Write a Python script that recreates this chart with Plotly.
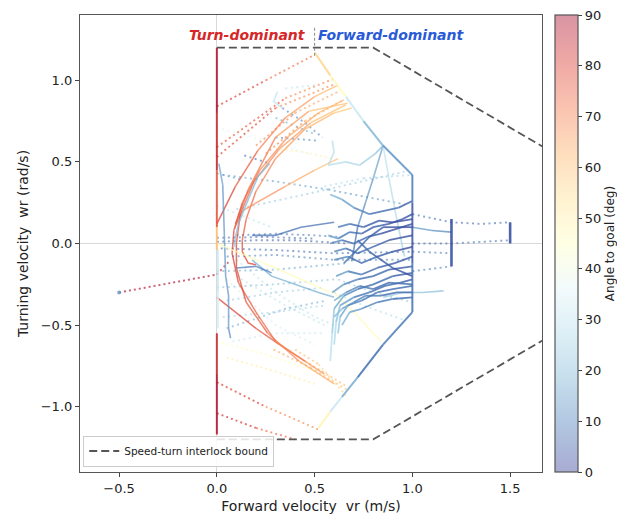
import numpy as np
import plotly.graph_objects as go

# ---------------- data (v [m/s], w [rad/s], angle-to-goal [deg]) ----------------
envelope_tracks = [
    [(0.0, 1.20, 88), (0.0, 0.80, 86), (0.0, 0.45, 82), (0.0, 0.10, 70), (0.0, -0.04, 50)],
    [(0.005, -0.04, 32), (0.005, -0.30, 30), (0.005, -0.52, 38)],
    [(0.0, -0.55, 80), (0.0, -0.80, 87), (0.0, -1.17, 88)],
    [(0.50, 1.17, 58), (0.58, 1.03, 52), (0.66, 0.90, 40), (0.75, 0.75, 25), (0.85, 0.60, 15), (1.0, 0.42, 14)],
    [(1.0, 0.42, 14), (1.0, 0.25, 6), (1.0, -0.12, 4), (1.0, -0.42, 12)],
    [(1.0, -0.42, 12), (0.85, -0.62, 8), (0.72, -0.82, 10), (0.64, -0.94, 25), (0.58, -1.03, 40), (0.52, -1.13, 54)],
]

red_arc_tracks = [
    [(0.0, 0.12, 82), (0.095, 0.35, 77), (0.21, 0.57, 73), (0.35, 0.77, 68), (0.50, 0.90, 64), (0.62, 0.97, 60)],
    [(0.095, 0.12, 78), (0.16, 0.33, 74), (0.30, 0.65, 68), (0.47, 0.81, 64), (0.67, 0.86, 58)],
    [(0.55, -0.80, 64), (0.45, -0.72, 68), (0.30, -0.60, 72), (0.20, -0.42, 75), (0.11, -0.24, 78),
     (0.078, -0.06, 80), (0.087, 0.08, 78), (0.13, 0.25, 75), (0.22, 0.45, 71), (0.36, 0.65, 67),
     (0.52, 0.80, 63), (0.65, 0.88, 60)],
    [(0.20, -0.13, 80), (0.16, -0.12, 80), (0.13, -0.05, 78), (0.13, 0.02, 77), (0.15, 0.15, 75),
     (0.20, 0.32, 72), (0.30, 0.52, 68), (0.45, 0.70, 64), (0.60, 0.80, 60), (0.69, 0.83, 57)],
    [(0.09, 0.09, 75), (0.13, 0.20, 72), (0.35, 0.35, 66), (0.50, 0.45, 62), (0.62, 0.52, 60)],
    [(0.0, -0.33, 82), (0.20, -0.52, 77), (0.32, -0.62, 73), (0.45, -0.72, 68)],
    [(0.60, -0.86, 62), (0.42, -0.72, 68), (0.26, -0.55, 73), (0.15, -0.36, 77), (0.10, -0.15, 79),
     (0.10, 0.00, 79), (0.12, 0.18, 76), (0.19, 0.38, 72), (0.32, 0.58, 68), (0.48, 0.74, 64), (0.66, 0.85, 58)],
]

red_dotted_tracks = [
    [(0.0, 0.84, 84), (0.25, 1.00, 76), (0.49, 1.15, 66)],
    [(0.0, 0.59, 82), (0.35, 0.89, 72), (0.60, 1.01, 62)],
    [(0.0, 0.53, 82), (0.30, 0.83, 74), (0.61, 0.98, 62)],
    [(0.20, 0.60, 70), (0.40, 0.80, 66), (0.62, 0.93, 60)],
    [(0.25, 0.55, 70), (0.45, 0.75, 65), (0.65, 0.88, 58)],
    [(0.0, -0.85, 84), (0.25, -1.00, 76), (0.52, -1.14, 62)],
    [(0.0, -1.04, 86), (0.20, -1.13, 78), (0.40, -1.20, 70)],
    [(0.45, -0.72, 66), (0.56, -0.80, 62), (0.67, -0.88, 58)],
    [(0.29, -0.65, 66), (0.48, -0.76, 62), (0.67, -0.90, 58)],
    [(0.40, -0.65, 62), (0.52, -0.74, 58), (0.66, -0.93, 55)],
    [(-0.50, -0.30, 88), (0.0, -0.19, 86), (0.07, -0.10, 82)],
    [(0.05, -0.70, 50), (0.29, -0.78, 50), (0.50, -0.86, 50)],
    [(0.0, -0.60, 46), (0.25, -0.68, 46), (0.50, -0.78, 46)],
    [(0.30, 0.58, 48), (0.45, 0.56, 48), (0.59, 0.52, 48)],
]

blue_dotted_tracks = [
    [(0.0, 0.71, 35), (0.25, 0.63, 35), (0.47, 0.55, 35)],
    [(0.03, 0.42, 15), (0.30, 0.38, 15), (0.57, 0.33, 15), (0.96, 0.24, 12)],
    [(0.10, 0.21, 25), (0.45, 0.30, 25), (0.96, 0.44, 25)],
    [(0.0, 0.23, 30), (0.28, 0.10, 30)],
    [(0.0, 0.43, 15), (0.13, 0.39, 15)],
    [(0.14, 0.54, 8), (0.27, 0.49, 8)],
    [(0.335, 0.83, 12), (0.45, 0.74, 12), (0.54, 0.65, 12)],
    [(0.30, 0.77, 18), (0.50, 0.67, 18)],
    [(0.35, 0.95, 30), (0.50, 0.97, 30)],
    [(0.30, 0.65, 12), (0.52, 0.63, 12)],
    [(0.55, 0.35, 28), (0.75, 0.40, 28), (1.0, 0.42, 25)],
    [(0.0, 0.01, 6), (0.20, 0.02, 6), (0.40, 0.02, 6), (0.67, 0.0, 6)],
    [(0.0, 0.035, 8), (0.25, 0.04, 8), (0.50, 0.03, 8)],
    [(0.02, -0.03, 8), (0.30, -0.04, 8), (0.60, -0.06, 8), (1.0, -0.05, 8)],
    [(0.05, -0.08, 12), (0.30, -0.07, 12), (0.60, -0.10, 12), (1.0, -0.10, 10)],
    [(0.10, 0.05, 10), (0.30, 0.06, 10), (0.50, 0.05, 10), (0.62, 0.04, 10)],
    [(0.0, -0.17, 18), (0.30, -0.16, 18), (0.67, -0.12, 18)],
    [(0.0, -0.27, 22), (0.30, -0.25, 22), (0.60, -0.22, 22)],
    [(0.05, -0.35, 25), (0.30, -0.30, 25), (0.55, -0.27, 25)],
    [(0.03, -0.45, 26), (0.30, -0.42, 26), (0.55, -0.38, 26)],
    [(0.05, -0.52, 18), (0.35, -0.40, 18), (0.56, -0.35, 18)],
    [(0.10, -0.20, 30), (0.35, -0.38, 30), (0.55, -0.50, 30)],
    [(0.10, -0.10, 30), (0.30, -0.30, 30), (0.50, -0.45, 30), (0.60, -0.50, 30)],
    [(0.05, -0.22, 34), (0.30, -0.50, 34), (0.50, -0.62, 34)],
    [(0.08, -0.60, 32), (0.30, -0.55, 32), (0.55, -0.55, 32)],
    [(0.60, -0.30, 28), (0.75, -0.38, 28), (0.96, -0.47, 28)],
    [(0.62, -0.22, 25), (0.80, -0.30, 25), (1.0, -0.36, 25)],
    [(1.0, 0.18, 10), (1.20, 0.13, 8), (1.35, 0.12, 8), (1.50, 0.13, 8)],
    [(1.0, 0.0, 8), (1.20, 0.0, 8), (1.50, 0.02, 8)],
    [(1.0, -0.05, 10), (1.20, -0.06, 10)],
    [(1.0, -0.17, 10), (1.20, -0.14, 10)],
]

blue_solid_tracks = [
    [(0.01, 0.49, 15), (0.03, 0.36, 15), (0.035, 0.12, 14), (0.04, -0.05, 14), (0.045, -0.20, 14),
     (0.06, -0.32, 14), (0.06, -0.52, 13), (0.07, -0.58, 12)],
    [(0.27, 0.49, 20), (0.21, 0.41, 20), (0.15, 0.24, 20), (0.11, 0.12, 21), (0.095, 0.04, 22), (0.09, -0.02, 22)],
    [(0.18, -0.10, 18), (0.28, -0.20, 18), (0.52, -0.30, 18), (0.60, -0.33, 18)],
    [(0.0, 0.0, 46), (0.30, -0.15, 46), (0.58, -0.30, 46)],
    [(0.18, 0.05, 8), (0.30, 0.05, 8), (0.43, 0.10, 8), (0.60, 0.13, 8)],
    [(0.10, -0.15, 10), (0.20, -0.14, 10), (0.28, -0.18, 10)],
    [(0.31, 0.93, 30), (0.29, 0.87, 30), (0.335, 0.83, 30)],
    [(0.59, 0.63, 28), (0.60, 0.56, 28), (0.57, 0.48, 28), (0.66, 0.50, 27), (0.73, 0.48, 25), (0.81, 0.55, 22), (0.85, 0.60, 18)],
    [(0.85, 0.60, 18), (0.80, 0.40, 15), (0.76, 0.25, 12), (0.72, 0.10, 10), (0.69, -0.11, 8)],
    [(0.85, 0.60, 30), (0.88, 0.40, 30), (0.92, 0.15, 28), (0.96, -0.08, 25)],
    [(0.60, -0.30, 48), (0.70, -0.42, 48), (0.84, -0.60, 45)],
    [(1.0, 0.10, 14), (1.10, 0.08, 14), (1.20, 0.07, 12)],
    [(0.85, -0.33, 25), (0.95, -0.30, 22), (1.05, -0.30, 22), (1.16, -0.29, 22)],
]

bundle_tracks = [
    [(0.58, 0.30, 22), (0.64, 0.27, 18), (0.70, 0.22, 14), (0.78, 0.18, 10), (0.86, 0.20, 8), (0.93, 0.22, 7), (1.0, 0.26, 6)],
    [(0.57, 0.05, 18), (0.62, 0.03, 12), (0.68, 0.07, 8), (0.74, 0.06, 6), (0.80, 0.10, 6), (0.88, 0.12, 5), (0.95, 0.15, 5), (1.0, 0.18, 5)],
    [(0.58, 0.0, 15), (0.64, 0.02, 10), (0.70, 0.0, 8), (0.77, 0.04, 6), (0.84, 0.06, 5), (0.92, 0.09, 5), (1.0, 0.12, 5)],
    [(0.60, -0.05, 15), (0.66, -0.03, 10), (0.72, -0.06, 8), (0.80, -0.02, 6), (0.88, 0.02, 5), (1.0, 0.05, 5)],
    [(0.62, 0.10, 12), (0.68, 0.12, 8), (0.75, 0.10, 6), (0.83, 0.14, 5), (0.90, 0.13, 5), (1.0, 0.15, 5)],
    [(0.60, -0.10, 15), (0.67, -0.08, 10), (0.74, -0.12, 8), (0.82, -0.08, 6), (0.90, -0.05, 5), (1.0, -0.02, 5)],
    [(0.72, 0.02, 8), (0.78, -0.05, 7), (0.84, -0.10, 6), (0.90, -0.15, 5), (1.0, -0.20, 5)],
    [(0.65, -0.12, 12), (0.70, -0.06, 8), (0.78, 0.04, 6), (0.85, 0.10, 5), (0.92, 0.10, 5), (1.0, 0.10, 5)],
    [(0.58, -0.72, 32), (0.59, -0.55, 28), (0.60, -0.40, 22), (0.65, -0.32, 15), (0.72, -0.28, 10), (0.80, -0.25, 8), (0.90, -0.20, 7), (1.0, -0.18, 6)],
    [(0.60, -0.62, 30), (0.61, -0.48, 25), (0.63, -0.38, 18), (0.70, -0.33, 12), (0.78, -0.30, 9), (0.86, -0.26, 8), (0.94, -0.24, 7), (1.0, -0.22, 6)],
    [(0.62, -0.55, 28), (0.63, -0.45, 22), (0.67, -0.38, 15), (0.74, -0.35, 11), (0.82, -0.30, 9), (0.90, -0.28, 8), (1.0, -0.26, 7)],
    [(0.60, -0.45, 25), (0.64, -0.40, 18), (0.70, -0.36, 13), (0.76, -0.32, 10), (0.84, -0.32, 9), (0.92, -0.30, 8), (1.0, -0.30, 7)],
    [(0.64, -0.50, 24), (0.68, -0.42, 18), (0.74, -0.40, 12), (0.82, -0.36, 10), (0.90, -0.34, 9), (1.0, -0.33, 8)],
    [(0.59, -0.30, 20), (0.65, -0.25, 14), (0.72, -0.22, 10), (0.80, -0.20, 8), (0.88, -0.16, 7), (1.0, -0.14, 6)],
    [(0.60, -0.35, 22), (0.66, -0.30, 15), (0.73, -0.26, 11), (0.80, -0.28, 9), (0.88, -0.24, 8), (1.0, -0.25, 7)],
    [(0.61, -0.20, 18), (0.67, -0.17, 12), (0.74, -0.19, 9), (0.82, -0.15, 7), (0.91, -0.12, 6), (1.0, -0.08, 5)],
]

bar_tracks = [
    [(1.20, 0.15, 4), (1.20, -0.14, 4)],
    [(1.50, 0.13, 4), (1.50, 0.0, 4)],
]

start_v = [-0.50]
start_w = [-0.30]
start_angle = [15]

bound_v = [0.0, 0.8, 1.7]
bound_w_upper = [1.2, 1.2, 0.57]
bound_w_lower = [-1.2, -1.2, -0.57]
divider_v = 0.5

cbar_ticks = [0, 10, 20, 30, 40, 50, 60, 70, 80, 90]

# ---------------- colour map (RdYlBu reversed) ----------------
STOPS = ["#313695", "#4575b4", "#74add1", "#abd9e9", "#e0f3f8", "#ffffbf",
         "#fee090", "#fdae61", "#f46d43", "#d73027", "#a50026"]
STOP_RGB = np.array([[int(h[i:i + 2], 16) for i in (1, 3, 5)] for h in STOPS], float)


def cmap(a):
    t = float(np.clip(a / 90.0, 0, 1)) * 10
    i = min(int(t), 9)
    f = t - i
    return STOP_RGB[i] * (1 - f) + STOP_RGB[i + 1] * f


def rgba(a, alpha):
    c = cmap(a)
    return f"rgba({c[0]:.0f},{c[1]:.0f},{c[2]:.0f},{alpha})"


CB_ALPHA = 0.42
cb_scale = []
for k in range(11):
    c = 255 - CB_ALPHA * (255 - STOP_RGB[k])
    cb_scale.append([k / 10, f"rgb({c[0]:.0f},{c[1]:.0f},{c[2]:.0f})"])

fig = go.Figure()


def add_family(tracks, width, dash, alpha, binsize=2):
    bins = {}
    for tr in tracks:
        run_key, run = None, []
        for p, q in zip(tr[:-1], tr[1:]):
            key = int(round(((p[2] + q[2]) / 2) / binsize) * binsize)
            if key != run_key:
                if run:
                    bins.setdefault(run_key, []).append(run)
                run_key, run = key, [p, q]
            else:
                run.append(q)
        if run:
            bins.setdefault(run_key, []).append(run)
    for key, runs in bins.items():
        xs, ys = [], []
        for r in runs:
            xs += [pt[0] for pt in r] + [None]
            ys += [pt[1] for pt in r] + [None]
        fig.add_trace(go.Scatter(x=xs, y=ys, mode="lines", showlegend=False, hoverinfo="skip",
                                 line=dict(color=rgba(key, alpha), width=width, dash=dash)))


add_family(blue_dotted_tracks, 1.9, "2px,3.5px", 0.6)
add_family(red_dotted_tracks, 1.9, "2px,3px", 0.65)
add_family(red_arc_tracks, 1.5, "solid", 0.7)
add_family(blue_solid_tracks, 1.6, "solid", 0.72)
add_family(bundle_tracks, 1.8, "solid", 0.82)
add_family(envelope_tracks, 2.0, "solid", 0.85)
add_family(bar_tracks, 2.6, "solid", 0.9)

fig.add_trace(go.Scatter(x=start_v, y=start_w, mode="markers", showlegend=False, hoverinfo="skip",
                         marker=dict(size=4, color=[rgba(a, 0.8) for a in start_angle])))

# colourbar carrier
fig.add_trace(go.Scatter(
    x=[None, None], y=[None, None], mode="markers", showlegend=False, hoverinfo="skip",
    marker=dict(color=[0, 90], cmin=0, cmax=90, colorscale=cb_scale, showscale=True,
                colorbar=dict(x=1.028, xanchor="left", xpad=0, y=0.5, yanchor="middle",
                              len=1, lenmode="fraction", thickness=23, ypad=0,
                              outlinecolor="#555", outlinewidth=1.2,
                              tickvals=cbar_ticks, ticks="outside", ticklen=4, tickcolor="#444",
                              ticklabeloverflow="allow",
                              tickfont=dict(family="DejaVu Sans", size=13, color="#222"),
                              title=dict(text="Angle to goal (deg)", side="right",
                                         font=dict(family="DejaVu Sans", size=12, color="#222"))))))

# interlock bound
fig.add_trace(go.Scatter(
    x=bound_v + [None] + bound_v, y=bound_w_upper + [None] + bound_w_lower,
    mode="lines", name="Speed-turn interlock bound", hoverinfo="skip",
    line=dict(color="#555555", width=1.8, dash="8px,4px")))

fig.add_shape(type="line", x0=divider_v, x1=divider_v, y0=1.15, y1=1.33, xref="x", yref="y",
              line=dict(color="#888", width=1, dash="3px,2px"))

fig.add_annotation(x=0.465, y=1.28, xref="x", yref="y", text="Turn-dominant", showarrow=False,
                   xanchor="right", yanchor="middle",
                   font=dict(family="DejaVu Sans", size=14, color="#d62728", weight="bold", style="italic"))
fig.add_annotation(x=0.505, y=1.28, xref="x", yref="y", text="Forward-dominant", showarrow=False,
                   xanchor="left", yanchor="middle",
                   font=dict(family="DejaVu Sans", size=14, color="#2a5bd7", weight="bold", style="italic"))

axis_common = dict(showgrid=False, showline=True, mirror=True, linecolor="#555", linewidth=1.2,
                   ticks="outside", ticklen=4, tickcolor="#444", zeroline=True,
                   zerolinecolor="#d9d9d9", zerolinewidth=1,
                   tickfont=dict(family="DejaVu Sans", size=13, color="#222"))

# page body has an 8px default margin, so the figure is sized to the remaining viewport
fig.update_layout(
    width=617, height=516,
    margin=dict(l=72, r=83, t=7, b=52),
    paper_bgcolor="white", plot_bgcolor="white",
    xaxis=dict(range=[-0.7, 1.663], tickvals=[-0.5, 0, 0.5, 1.0, 1.5],
               ticktext=["\u22120.5", "0.0", "0.5", "1.0", "1.5"],
               title=dict(text="Forward velocity\u00a0\u00a0vr (m/s)", standoff=6,
                          font=dict(family="DejaVu Sans", size=14, color="#222")),
               **axis_common),
    yaxis=dict(range=[-1.4, 1.4], tickvals=[-1.0, -0.5, 0, 0.5, 1.0],
               ticktext=["\u22121.0", "\u22120.5", "0.0", "0.5", "1.0"],
               title=dict(text="Turning velocity\u00a0\u00a0wr (rad/s)", standoff=8,
                          font=dict(family="DejaVu Sans", size=14, color="#222")),
               **axis_common),
    legend=dict(x=0.007, y=0.012, xanchor="left", yanchor="bottom",
                bgcolor="rgba(255,255,255,0.85)", bordercolor="#cccccc", borderwidth=1,
                font=dict(family="DejaVu Sans", size=10.5, color="#222"),
                itemwidth=30, tracegroupgap=0),
    showlegend=True,
)

fig.write_html("out.html")
